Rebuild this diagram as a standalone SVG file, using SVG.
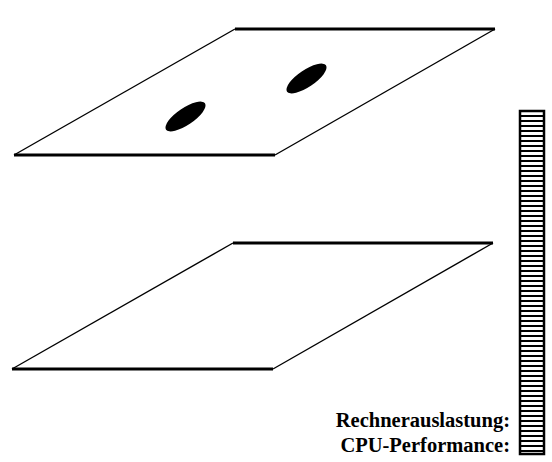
<svg xmlns="http://www.w3.org/2000/svg" width="552" height="462" viewBox="0 0 552 462">
<style>
.edge{stroke:#000;stroke-width:1.4;fill:none}
.hedge{stroke:#000;stroke-width:3;fill:none}
.blob{fill:#000}
.lbl{font-family:"Liberation Serif",serif;font-weight:bold;font-size:20.5px;fill:#000;text-anchor:end}
</style>
<defs>
<pattern id="stripes" x="0" y="110" width="26" height="5" patternUnits="userSpaceOnUse">
<rect x="0" y="0" width="26" height="2" fill="#000"/>
</pattern>
</defs>
<rect width="552" height="462" fill="#fff"/>
<g id="plane-top">
<line class="hedge" x1="235" y1="29" x2="495" y2="29"/>
<line class="hedge" x1="14" y1="155" x2="275" y2="155"/>
<line class="edge" x1="235" y1="29" x2="14" y2="155"/>
<line class="edge" x1="495" y1="29" x2="275" y2="155"/>
<ellipse class="blob" cx="185.5" cy="116.5" rx="23.5" ry="8.5" transform="rotate(-34 185.5 116.5)"/>
<ellipse class="blob" cx="306.5" cy="78.5" rx="23.5" ry="8.5" transform="rotate(-34 306.5 78.5)"/>
</g>
<g id="plane-bottom">
<line class="hedge" x1="233" y1="243" x2="493" y2="243"/>
<line class="hedge" x1="12" y1="369" x2="273" y2="369"/>
<line class="edge" x1="233" y1="243" x2="12" y2="369"/>
<line class="edge" x1="493" y1="243" x2="273" y2="369"/>
</g>
<g id="bar">
<rect x="519" y="110" width="26" height="345" fill="url(#stripes)"/>
<rect x="520" y="111" width="24" height="343" fill="none" stroke="#000" stroke-width="2.5"/>
</g>
<g id="labels">
<text class="lbl" x="510" y="427">Rechnerauslastung:</text>
<text class="lbl" x="510" y="452">CPU-Performance:</text>
</g>
</svg>
